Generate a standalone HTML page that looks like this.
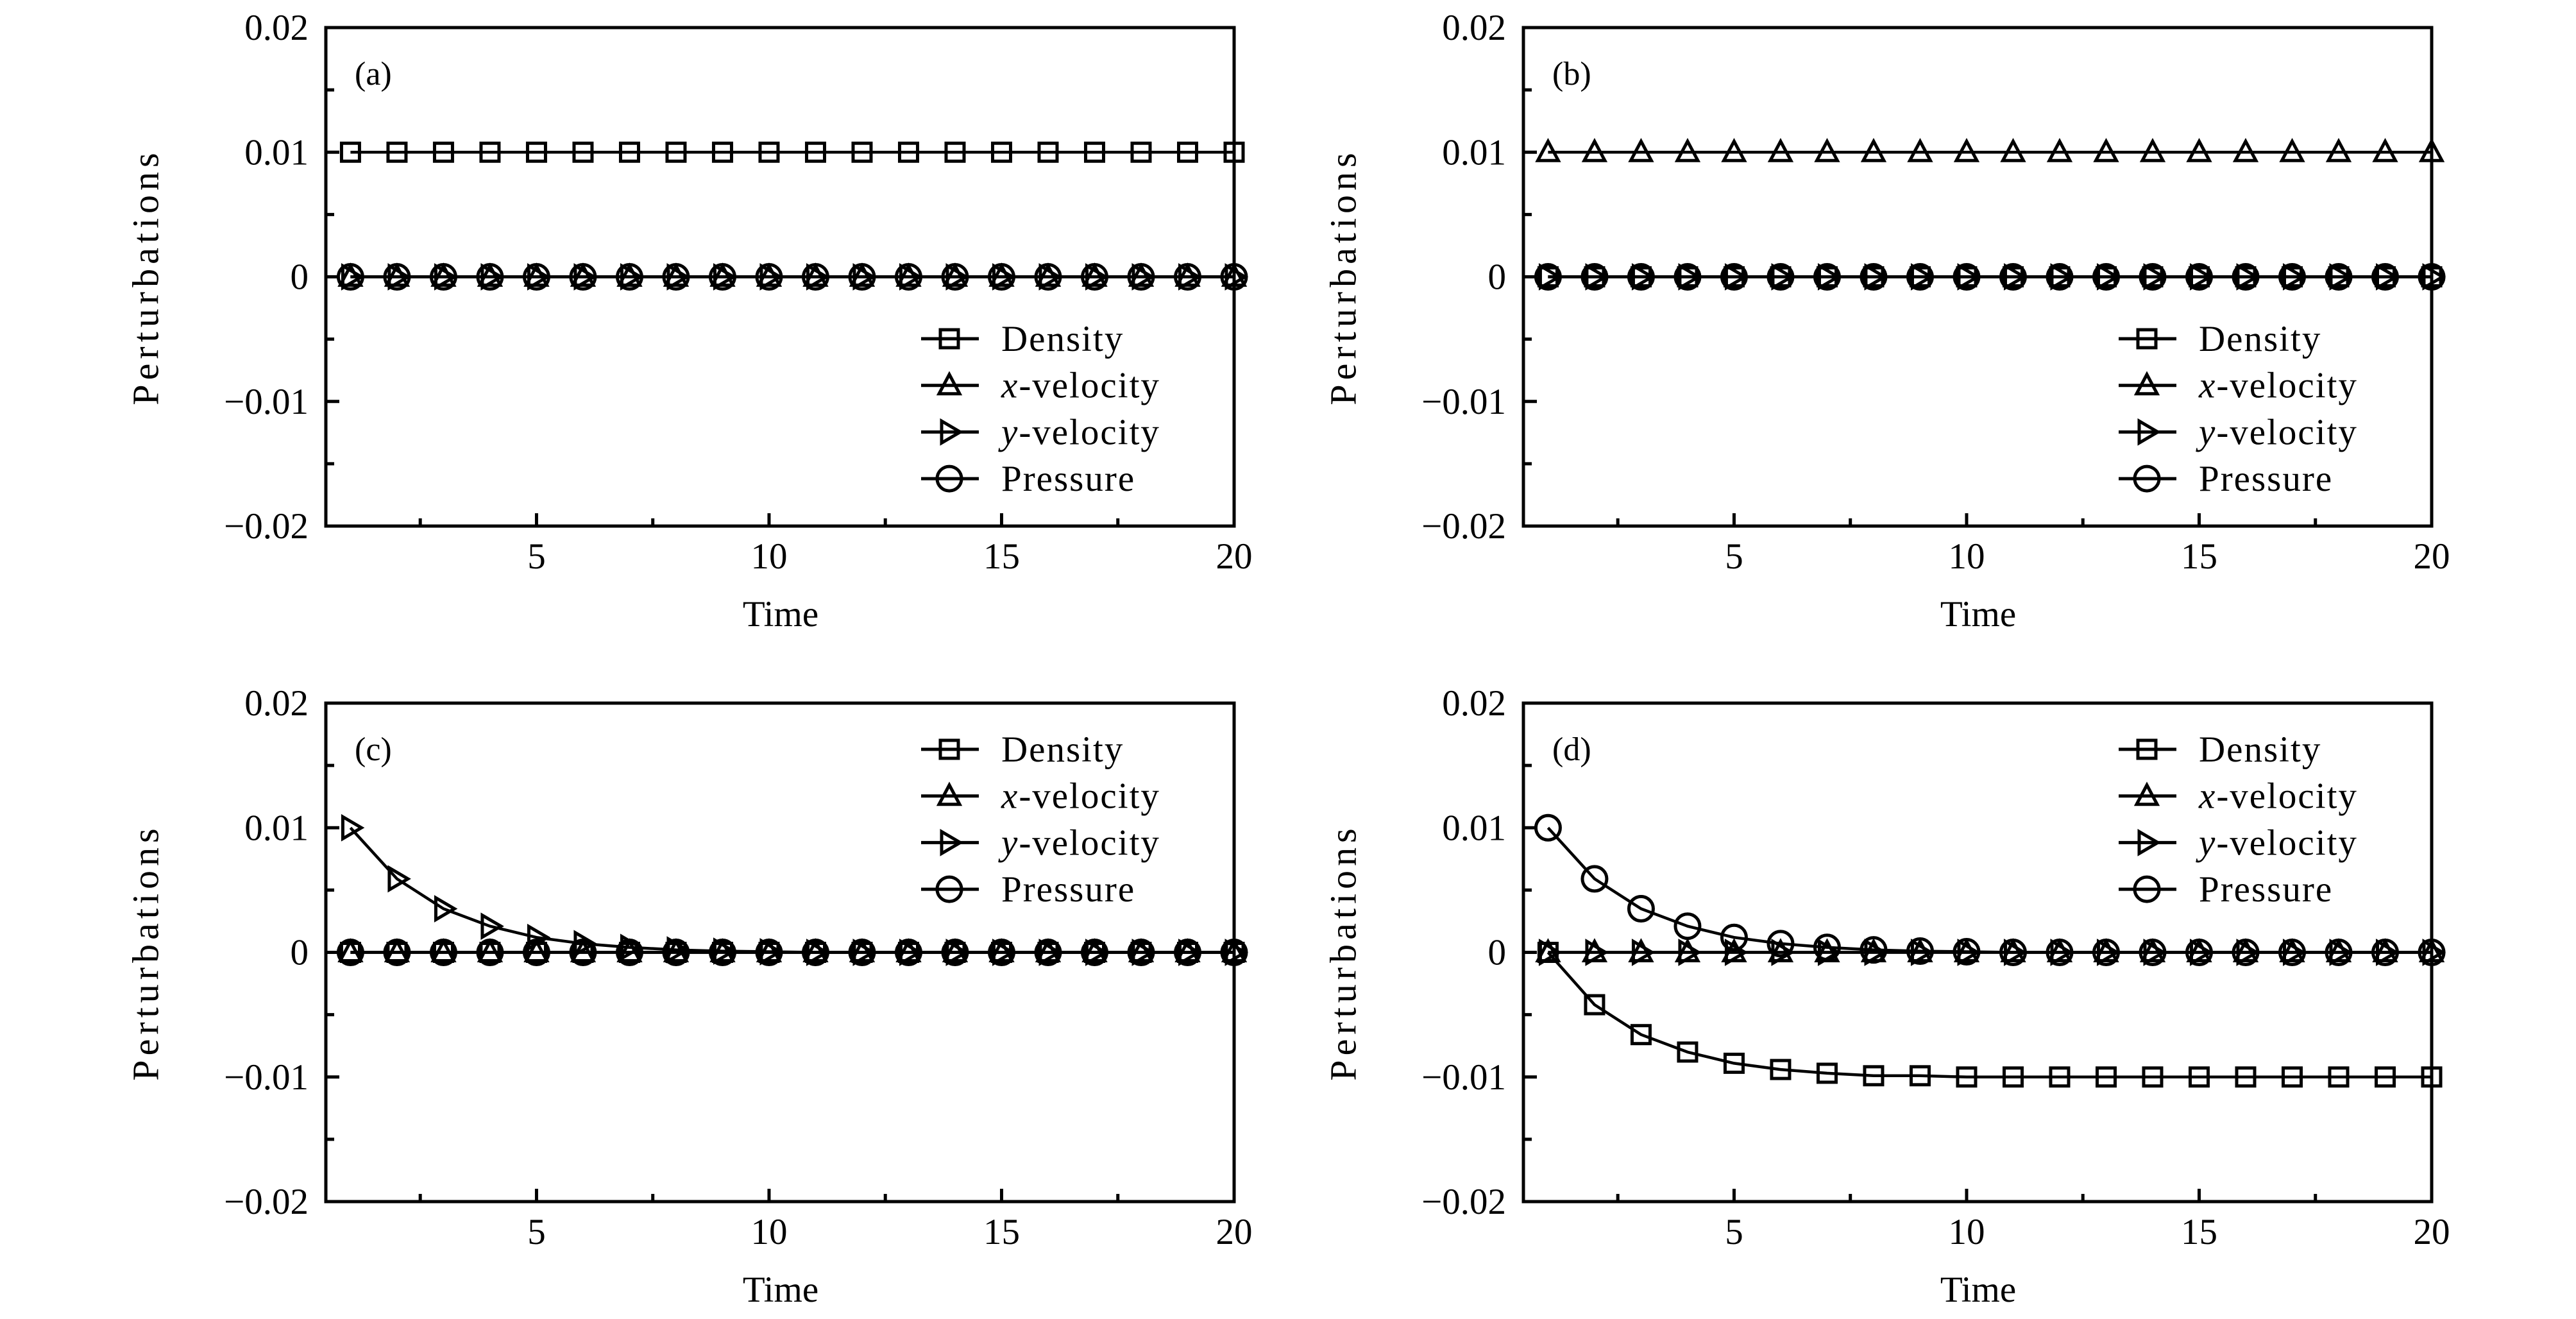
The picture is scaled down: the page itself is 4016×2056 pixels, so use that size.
<!DOCTYPE html>
<html>
<head>
<meta charset="utf-8">
<style>
html,body{margin:0;padding:0;background:#fff;}
svg{display:block;}
text{font-family:"Liberation Serif","DejaVu Serif",serif;fill:#000;}
</style>
</head>
<body>
<svg id="fig" xmlns="http://www.w3.org/2000/svg" width="4016" height="2056" viewBox="0 0 4016 2056"></svg>
<script>
// ---- data ----
const times = [1,2,3,4,5,6,7,8,9,10,11,12,13,14,15,16,17,18,19,20];
const seriesNames = ["Density","x-velocity","y-velocity","Pressure"];
const yTickValues = [0.02,0.01,0,-0.01,-0.02];
const yTickLabels = ["0.02","0.01","0","\u22120.01","\u22120.02"];
const xTickValues = [5,10,15,20];
const xTickLabels = ["5","10","15","20"];
const zeros = [0,0,0,0,0,0,0,0,0,0,0,0,0,0,0,0,0,0,0,0];
const constHigh = [0.01,0.01,0.01,0.01,0.01,0.01,0.01,0.01,0.01,0.01,0.01,0.01,0.01,0.01,0.01,0.01,0.01,0.01,0.01,0.01];
const decayC = [0.01,0.0059,0.0035,0.0021,0.0012,0.0007,0.0004,0.0002,0.0001,0.00005,0,0,0,0,0,0,0,0,0,0];
const decayD = [0.01,0.0059,0.0035,0.0021,0.0012,0.0007,0.0004,0.0002,0.0001,0.00005,0,0,0,0,0,0,0,0,0,0];
const densityD = [0,-0.0042,-0.0066,-0.0080,-0.0089,-0.0094,-0.0097,-0.0099,-0.0099,-0.0100,-0.0100,-0.0100,-0.0100,-0.0100,-0.0100,-0.0100,-0.0100,-0.0100,-0.0100,-0.0100];

const panels = [
  {id:"a", left:508, top:43, legendTop:528, series:[constHigh, zeros, zeros, zeros]},
  {id:"b", left:2375, top:43, legendTop:528, series:[zeros, constHigh, zeros, zeros]},
  {id:"c", left:508, top:1096, legendTop:1168, series:[zeros, zeros, decayC, zeros]},
  {id:"d", left:2375, top:1096, legendTop:1168, series:[densityD, zeros, zeros, decayD]}
];
const W = 1416, H = 777;
const xMin = 0.47, xMax = 20, yMin = -0.02, yMax = 0.02;
const NS = "http://www.w3.org/2000/svg";
const svg = document.getElementById("fig");

function mk(tag, attrs, parent){
  const e = document.createElementNS(NS, tag);
  for (const k in attrs) e.setAttribute(k, attrs[k]);
  parent.appendChild(e);
  return e;
}
function marker(kind, cx, cy, g){
  let e;
  if (kind === 0) {
    e = mk("rect", {x:cx-14, y:cy-14, width:28, height:28, fill:"none", stroke:"#000", "stroke-width":5}, g);
  } else if (kind === 1) {
    e = mk("polygon", {points:`${cx},${cy-17} ${cx-16},${cy+13} ${cx+16},${cy+13}`, fill:"none", stroke:"#000", "stroke-width":5}, g);
  } else if (kind === 2) {
    e = mk("polygon", {points:`${cx+17},${cy} ${cx-12},${cy-17} ${cx-12},${cy+17}`, fill:"none", stroke:"#000", "stroke-width":5}, g);
  } else {
    e = mk("circle", {cx:cx, cy:cy, r:19, fill:"none", stroke:"#000", "stroke-width":5}, g);
  }
  return e;
}

panels.forEach(p => {
  const sx = v => p.left + (v - xMin) / (xMax - xMin) * W;
  const sy = v => p.top + (yMax - v) / (yMax - yMin) * H;
  const g = mk("g", {}, svg);
  
  

  p.series.forEach((vals, si) => {
    const sg = mk("g", {}, g);
    
    
    const pts = times.map((t, i) => `${sx(t).toFixed(1)},${sy(vals[i]).toFixed(1)}`).join(" ");
    const pl = mk("polyline", {points:pts, fill:"none", stroke:"#000", "stroke-width":4.5, "stroke-linejoin":"round"}, sg);
    
    
    times.forEach((t, i) => {
      const m = marker(si, sx(t), sy(vals[i]), sg);
      
      
    });
  });

  const fr = mk("rect", {x:p.left, y:p.top, width:W, height:H, fill:"none", stroke:"#000", "stroke-width":5}, g);
  
  

  yTickValues.forEach((v, i) => {
    const y = sy(v);
    const tk = mk("line", {x1:p.left, x2:p.left+21, y1:y, y2:y, stroke:"#000", "stroke-width":5}, g);
    
    
    const lb = mk("text", {x:p.left-27, y:y+19, "text-anchor":"end", "font-size":57}, g);
    lb.textContent = yTickLabels[i];
    
    
    if (i < yTickValues.length - 1) {
      const ym = sy((v + yTickValues[i+1]) / 2);
      const mt = mk("line", {x1:p.left, x2:p.left+13, y1:ym, y2:ym, stroke:"#000", "stroke-width":5}, g);
      
      
    }
  });
  xTickValues.forEach((v, i) => {
    const x = sx(v);
    const tk = mk("line", {x1:x, x2:x, y1:p.top+H, y2:p.top+H-20, stroke:"#000", "stroke-width":5}, g);
    
    
    const lb = mk("text", {x:x, y:p.top+H+66, "text-anchor":"middle", "font-size":57}, g);
    lb.textContent = xTickLabels[i];
    
    
    const xm = sx(v - 2.5);
    const mt = mk("line", {x1:xm, x2:xm, y1:p.top+H, y2:p.top+H-12, stroke:"#000", "stroke-width":5}, g);
    
    
  });

  const xt = mk("text", {x:p.left+709, y:p.top+H+156, "text-anchor":"middle", "font-size":57}, g);
  xt.textContent = "Time";
  
  
  const ycx = p.left - 275, ycy = p.top + H/2;
  const yt = mk("text", {x:ycx, y:ycy, "text-anchor":"middle", "font-size":58, "letter-spacing":"7", transform:`rotate(-90 ${ycx} ${ycy})`, "dominant-baseline":"middle"}, g);
  yt.textContent = "Perturbations";
  
  

  const pl = mk("text", {x:p.left+45, y:p.top+89, "font-size":52}, g);
  pl.textContent = "(" + p.id + ")";
  
  

  const lg = mk("g", {}, g);
  
  
  const lx0 = p.left + 928;
  seriesNames.forEach((name, si) => {
    const y = p.legendTop + si * 72.7;
    const eg = mk("g", {}, lg);
    
    
    mk("line", {x1:lx0, x2:lx0+90, y1:y, y2:y, stroke:"#000", "stroke-width":5}, eg);
    marker(si, lx0+44, y, eg);
    const t = mk("text", {x:lx0+125, y:y+19, "font-size":57, "letter-spacing":"2"}, eg);
    if (si === 1 || si === 2) {
      const it = mk("tspan", {"font-style":"italic"}, t);
      it.textContent = si === 1 ? "x" : "y";
      const rest = mk("tspan", {}, t);
      rest.textContent = "-velocity";
    } else {
      t.textContent = name;
    }
  });
});
</script>
</body>
</html>
